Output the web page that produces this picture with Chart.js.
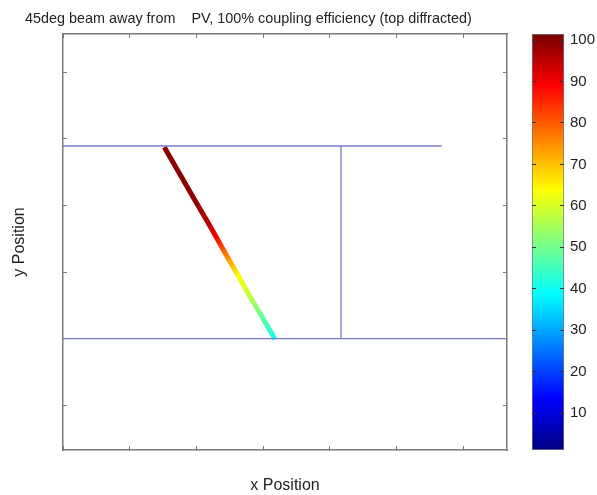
<!DOCTYPE html>
<html>
<head>
<meta charset="utf-8">
<script src="https://cdn.jsdelivr.net/npm/chart.js@4"></script>
<style>
  body { margin: 0; background: #fff; }
  #wrap { position: relative; width: 597px; height: 495px; }
  #mainBox { position: absolute; left: 0; top: 0; width: 520px; height: 495px; }
  #barBox { position: absolute; left: 520px; top: 0; width: 77px; height: 495px; }
</style>
</head>
<body>
<div id="wrap">
  <div id="mainBox"><canvas id="main"></canvas></div>
  <div id="barBox"><canvas id="cbar"></canvas></div>
</div>
<script>
document.addEventListener("DOMContentLoaded", () => {

const titleText = "45deg beam away from    PV, 100% coupling efficiency (top diffracted)";

// axis ranges and tick positions
const xMin = 0, xMax = 6.66;
const yMin = 0.33, yMax = 6.57;
const xTicks = [0, 1, 2, 3, 4, 5, 6];
const yTicks = [1, 2, 3, 4, 5, 6];

// walls
const topWallX = [0, 5.68];
const topWallY = [4.89, 4.89];
const bottomWallX = [0, 6.66];
const bottomWallY = [2.0, 2.0];
const dividerX = [4.17, 4.17];
const dividerY = [2.0, 4.89];

// beam path and intensity
const beamX = [1.52, 1.97, 2.17, 2.30, 2.43, 2.63, 2.81, 2.98, 3.18];
const beamY = [4.87, 4.09, 3.75, 3.52, 3.29, 2.94, 2.62, 2.34, 1.99];
const beamValue = [100, 99, 96, 90, 78, 64, 57, 49, 40];

// colour bar
const cbMin = 1.1, cbMax = 101.45;
const cbTicks = [10, 20, 30, 40, 50, 60, 70, 80, 90, 100];

const jet = [
  [0, [0, 0, 130]],
  [0.125, [0, 0, 255]],
  [0.375, [0, 255, 255]],
  [0.625, [255, 255, 0]],
  [0.875, [255, 0, 0]],
  [1, [120, 0, 0]]
];

function jetColor(v) {
  const f = Math.min(1, Math.max(0, (v - cbMin) / (cbMax - cbMin)));
  for (let i = 1; i < jet.length; i++) {
    if (f <= jet[i][0]) {
      const a = jet[i - 1], b = jet[i];
      const t = (f - a[0]) / (b[0] - a[0]);
      const c = a[1].map((x, k) => Math.round(x + (b[1][k] - x) * t));
      return `rgb(${c[0]},${c[1]},${c[2]})`;
    }
  }
  return "rgb(120,0,0)";
}

const pts = (xs, ys) => xs.map((x, i) => ({x, y: ys[i]}));

const frame = "#7a7a7a";
const wallColor = "rgb(120,120,200)";
const fontFamily = "'Liberation Sans', Arial, sans-serif";
const titleFont = { family: fontFamily, size: 14.4 };
const axisFont = { family: fontFamily, size: 16 };
const tickFont = { family: fontFamily, size: 15 };

function axis(pos, min, max, list, size, extra) {
  return Object.assign({
    type: "linear",
    position: pos,
    min, max,
    afterBuildTicks: s => { s.ticks = list.map(v => ({value: v})); },
    afterFit: s => {
      if (pos === "left" || pos === "right") s.width = size; else s.height = size;
    },
    ticks: { display: false },
    grid: { drawOnChartArea: false, tickLength: -4, color: frame, lineWidth: 1 },
    border: { color: frame, width: 1.5 }
  }, extra || {});
}

const titlePlugin = {
  id: "plotTitle",
  afterDraw(chart) {
    const c = chart.ctx;
    c.save();
    c.font = `${titleFont.size}px ${titleFont.family}`;
    c.fillStyle = "#222";
    c.textBaseline = "alphabetic";
    c.fillText(titleText, chart.chartArea.left - 38, 23);
    c.restore();
  }
};

function beamGradient(ctx) {
  const chart = ctx.chart;
  if (!chart.chartArea) return jetColor(beamValue[0]);
  const sx = chart.scales.x, sy = chart.scales.y;
  const x0 = sx.getPixelForValue(beamX[0]), y0 = sy.getPixelForValue(beamY[0]);
  const n = beamX.length - 1;
  const x1 = sx.getPixelForValue(beamX[n]), y1 = sy.getPixelForValue(beamY[n]);
  const g = chart.ctx.createLinearGradient(x0, y0, x1, y1);
  beamY.forEach((y, i) => {
    const f = (sy.getPixelForValue(y) - y0) / (y1 - y0);
    g.addColorStop(Math.min(1, Math.max(0, f)), jetColor(beamValue[i]));
  });
  return g;
}

const lineSet = (data, color, width) => ({
  data, showLine: true, pointRadius: 0, borderColor: color,
  borderWidth: width, fill: false, tension: 0
});

new Chart(document.getElementById("main"), {
  type: "scatter",
  data: {
    datasets: [
      lineSet(pts(topWallX, topWallY), wallColor, 1.3),
      lineSet(pts(bottomWallX, bottomWallY), wallColor, 1.3),
      lineSet(pts(dividerX, dividerY), wallColor, 1.3),
      Object.assign(lineSet(pts(beamX, beamY), beamGradient, 5), { borderCapStyle: "butt" })
    ]
  },
  options: {
    animation: false,
    responsive: true,
    maintainAspectRatio: false,
    layout: { padding: 0 },
    plugins: { legend: { display: false }, tooltip: { enabled: false } },
    scales: {
      x: axis("bottom", xMin, xMax, xTicks, 45, {
        title: { display: true, text: "x Position", color: "#222", font: axisFont, padding: { top: 0, bottom: 0 } }
      }),
      x2: axis("top", xMin, xMax, xTicks, 34),
      y: axis("left", yMin, yMax, yTicks, 63, {
        title: { display: true, text: "y Position", color: "#222", font: axisFont, padding: { top: 10, bottom: 0 } }
      }),
      y2: axis("right", yMin, yMax, yTicks, 13)
    }
  },
  plugins: [titlePlugin]
});

function barGradient(ctx) {
  const chart = ctx.chart;
  if (!chart.chartArea) return jetColor(cbMax);
  const sy = chart.scales.y;
  const g = chart.ctx.createLinearGradient(0, sy.getPixelForValue(cbMin), 0, sy.getPixelForValue(cbMax));
  jet.forEach(([f, c]) => g.addColorStop(f, `rgb(${c[0]},${c[1]},${c[2]})`));
  return g;
}

new Chart(document.getElementById("cbar"), {
  type: "bar",
  data: {
    labels: [""],
    datasets: [{
      data: [[cbMin, cbMax]],
      backgroundColor: barGradient,
      borderColor: frame,
      borderWidth: 1,
      borderSkipped: false,
      barPercentage: 1,
      categoryPercentage: 1
    }]
  },
  options: {
    animation: false,
    responsive: true,
    maintainAspectRatio: false,
    layout: { padding: { top: 34, bottom: 45 } },
    plugins: { legend: { display: false }, tooltip: { enabled: false } },
    scales: {
      x: { display: false },
      y: axis("right", cbMin, cbMax, cbTicks, 33, {
        ticks: { display: true, color: "#222", font: tickFont, padding: 10 },
        grid: { drawOnChartArea: false, tickLength: -4, color: "#333", z: 1 },
        border: { display: false }
      }),
      yl: axis("left", cbMin, cbMax, cbTicks, 12, {
        grid: { drawOnChartArea: false, tickLength: -4, color: "#333", z: 1 },
        border: { display: false }
      })
    }
  }
});

});
</script>
</body>
</html>
